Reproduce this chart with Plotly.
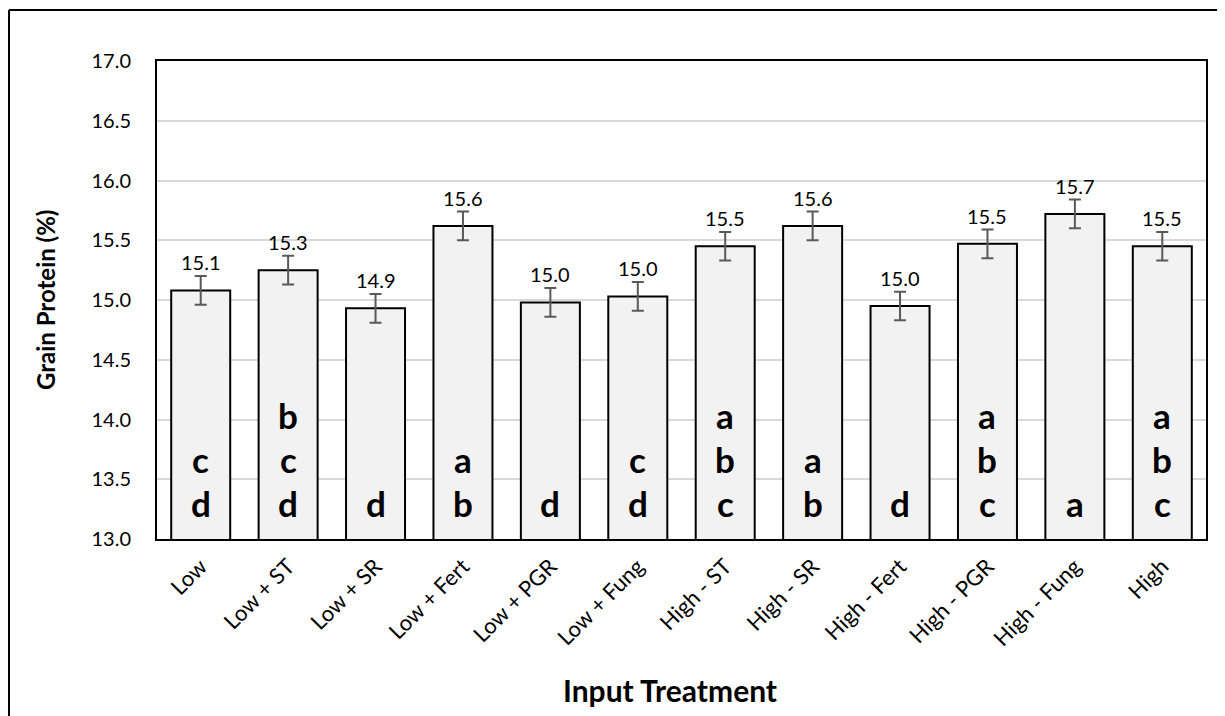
import plotly.graph_objects as go

categories = ["Low", "Low + ST", "Low + SR", "Low + Fert", "Low + PGR", "Low + Fung",
              "High - ST", "High - SR", "High - Fert", "High - PGR", "High - Fung", "High"]
protein = [15.08, 15.25, 14.93, 15.62, 14.98, 15.03, 15.45, 15.62, 14.95, 15.47, 15.72, 15.45]
errors = [0.12] * 12
value_labels = ["15.1", "15.3", "14.9", "15.6", "15.0", "15.0", "15.5", "15.6", "15.0", "15.5", "15.7", "15.5"]
letters = ["cd", "bcd", "d", "ab", "d", "cd", "abc", "ab", "d", "abc", "a", "abc"]
y_ticks = [13.0, 13.5, 14.0, 14.5, 15.0, 15.5, 16.0, 16.5, 17.0]

FONT = "Lato"
OFF = 8  # page body margin
W, H = 1225 - OFF, 716 - OFF
L, R, T, B = 157 - OFF, 19, 61 - OFF, 177

fig = go.Figure()
fig.add_trace(go.Bar(
    x=categories, y=protein,
    marker=dict(color="#f2f2f2", line=dict(color="black", width=2)),
    error_y=dict(type="data", array=errors, visible=True, color="#595959", thickness=2, width=6),
    hoverinfo="skip",
))

annotations = []
for cat, v, e, lab in zip(categories, protein, errors, value_labels):
    annotations.append(dict(x=cat, y=v + e, text=lab, showarrow=False, xref="x", yref="y",
                            yanchor="bottom", yshift=0,
                            font=dict(family=FONT, size=20, color="black")))
for cat, let in zip(categories, letters):
    for k, ch in enumerate(reversed(let)):
        annotations.append(dict(x=cat, y=y_ticks[0], text=ch, showarrow=False, xref="x", yref="y",
                                yanchor="middle", yshift=36 + 44 * k,
                                font=dict(family=FONT, size=35, color="black", weight="bold")))

pw = W - L - R
ph = H - T - B
def px(xp):
    return (xp - OFF - L) / pw
def py(yp):
    return (H - B - (yp - OFF)) / ph

annotations.append(dict(text="<b>Input Treatment</b>", x=px(670), y=py(690),
                        xref="paper", yref="paper", showarrow=False, xanchor="center", yanchor="middle",
                        font=dict(family=FONT, size=30, color="black")))
annotations.append(dict(text="<b>Grain Protein (%)</b>", x=px(45), y=0.5, textangle=-90,
                        xref="paper", yref="paper", showarrow=False, xanchor="center", yanchor="middle",
                        font=dict(family=FONT, size=24, color="black")))

shapes = [
    dict(type="line", xref="paper", yref="paper", x0=px(9), x1=px(1240),
         y0=py(10), y1=py(10), line=dict(color="black", width=2)),
    dict(type="line", xref="paper", yref="paper", x0=px(9), x1=px(9),
         y0=py(10), y1=py(740), line=dict(color="black", width=2)),
]

fig.update_layout(
    width=W, height=H,
    margin=dict(l=L, r=R, t=T, b=B, autoexpand=False),
    paper_bgcolor="white", plot_bgcolor="white",
    bargap=0.325,
    showlegend=False,
    annotations=annotations,
    shapes=shapes,
    font=dict(family=FONT, color="black"),
)
fig.update_xaxes(
    tickangle=-45, tickfont=dict(family=FONT, size=22, color="black"),
    showline=True, linecolor="black", linewidth=2, mirror=True,
    ticks="outside", ticklen=4, tickcolor="rgba(0,0,0,0)", showgrid=False,
)
fig.update_yaxes(
    range=[13.0, 17.0], tickvals=y_ticks, ticktext=[f"{t:.1f}" for t in y_ticks],
    tickfont=dict(family=FONT, size=20, color="black"),
    showline=True, linecolor="black", linewidth=2, mirror=True,
    showgrid=True, gridcolor="#d9d9d9", gridwidth=1.5,
    ticks="outside", ticklen=20, tickcolor="rgba(0,0,0,0)", zeroline=False,
)

fig.write_html("out.html")
